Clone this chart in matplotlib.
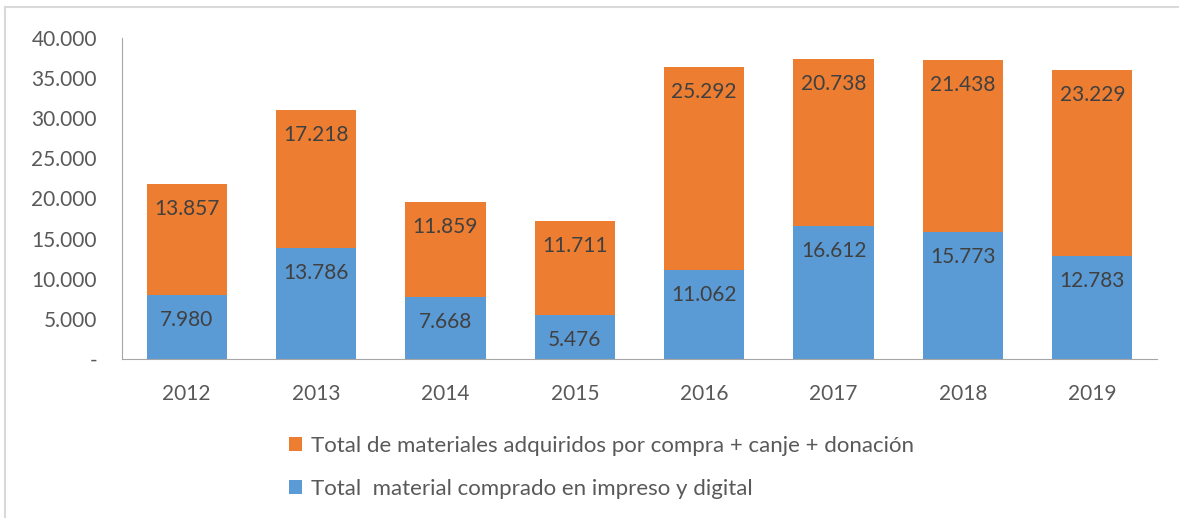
import matplotlib.pyplot as plt
import numpy as np

# datos
anios = ["2012", "2013", "2014", "2015", "2016", "2017", "2018", "2019"]
comprado = [7980, 13786, 7668, 5476, 11062, 16612, 15773, 12783]
adquiridos = [13857, 17218, 11859, 11711, 25292, 20738, 21438, 23229]
y_ticks = [0, 5000, 10000, 15000, 20000, 25000, 30000, 35000, 40000]

nombre_adq = "Total de materiales adquiridos por compra + canje + donación"
nombre_comp = "Total  material comprado en impreso y digital"

azul = "#5B9BD5"
naranja = "#ED7D31"
gris = "#595959"

plt.rcParams["font.family"] = ["Lato", "DejaVu Sans"]

W, H = 1179, 518
fig = plt.figure(figsize=(W / 100, H / 100), dpi=100)
ax = fig.add_axes([122 / W, 1 - 359 / H, (1157 - 122) / W, (359 - 38) / H])

x = np.arange(len(anios))
ancho = 0.62
b1 = ax.bar(x, comprado, ancho, color=azul, label=nombre_comp)
b2 = ax.bar(x, adquiridos, ancho, bottom=comprado, color=naranja, label=nombre_adq)

def fmt(v):
    return f"{v:,}".replace(",", ".")

# etiquetas dentro de las barras, cerca del borde superior
for i in range(len(anios)):
    ax.annotate(fmt(comprado[i]), (x[i], comprado[i]), xytext=(0, -25),
                textcoords="offset pixels", ha="center", va="center",
                fontsize=15, color="#404040")
    tope = comprado[i] + adquiridos[i]
    ax.annotate(fmt(adquiridos[i]), (x[i], tope), xytext=(0, -25),
                textcoords="offset pixels", ha="center", va="center",
                fontsize=15, color="#404040")

ax.set_xlim(-0.5, len(anios) - 0.5)
ax.set_ylim(0, 40000)
ax.set_yticks(y_ticks)
ax.set_yticklabels(["-" if t == 0 else fmt(t) for t in y_ticks])
ax.set_xticks(x)
ax.set_xticklabels(anios)
ax.tick_params(axis="y", length=0, pad=18, labelsize=15, labelcolor=gris)
ax.tick_params(axis="x", length=0, pad=18, labelsize=15, labelcolor=gris)

for lado in ["top", "right"]:
    ax.spines[lado].set_visible(False)
ax.spines["left"].set_color("#A6A6A6")
ax.spines["bottom"].set_color("#A6A6A6")

handles = [b2, b1]
ax.legend(handles, [nombre_adq, nombre_comp], loc="upper left",
          bbox_to_anchor=(282 / W, 1 - 429 / H), bbox_transform=fig.transFigure,
          frameon=False, fontsize=16, labelcolor=gris, handlelength=0.6,
          handleheight=0.6, handletextpad=0.4, labelspacing=1.05,
          borderaxespad=0, borderpad=0.3)

# borde del grafico
fig.add_artist(plt.Line2D([5 / W, 5 / W], [0, 1 - 7 / H], color="#D9D9D9", lw=1.5))
fig.add_artist(plt.Line2D([5 / W, 1], [1 - 7 / H, 1 - 7 / H], color="#D9D9D9", lw=1.5))

fig.savefig("out.png", dpi=100)
